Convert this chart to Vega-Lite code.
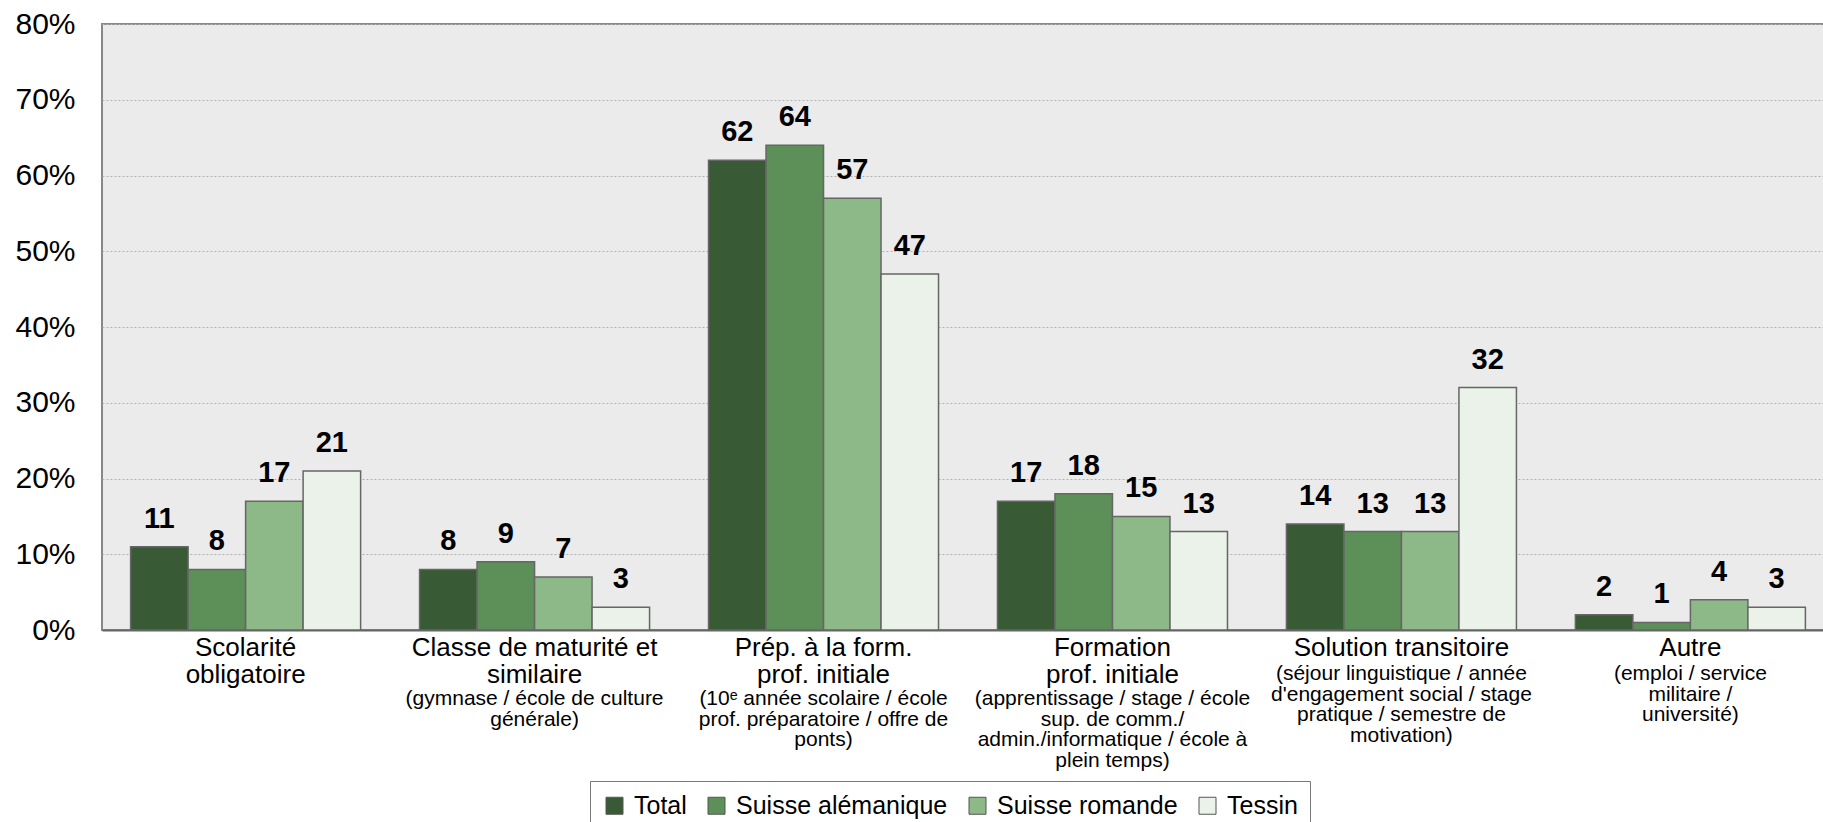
{
  "$schema": "https://vega.github.io/schema/vega-lite/v6.json",
  "autosize": "none",
  "padding": {"left": 102, "top": 24, "right": 0, "bottom": 192},
  "width": 1732,
  "height": 606,
  "background": "white",
  "config": {
    "font": "Liberation Sans",
    "view": {"stroke": "#888888", "strokeWidth": 2, "fill": "#ebebeb"}
  },
  "datasets": {
    "bars": [
      {"cat": "Scolarité|obligatoire", "region": "Total", "value": 11},
      {"cat": "Scolarité|obligatoire", "region": "Suisse alémanique", "value": 8},
      {"cat": "Scolarité|obligatoire", "region": "Suisse romande", "value": 17},
      {"cat": "Scolarité|obligatoire", "region": "Tessin", "value": 21},
      {"cat": "Classe de maturité et|similaire", "region": "Total", "value": 8},
      {"cat": "Classe de maturité et|similaire", "region": "Suisse alémanique", "value": 9},
      {"cat": "Classe de maturité et|similaire", "region": "Suisse romande", "value": 7},
      {"cat": "Classe de maturité et|similaire", "region": "Tessin", "value": 3},
      {"cat": "Prép. à la form.|prof. initiale", "region": "Total", "value": 62},
      {"cat": "Prép. à la form.|prof. initiale", "region": "Suisse alémanique", "value": 64},
      {"cat": "Prép. à la form.|prof. initiale", "region": "Suisse romande", "value": 57},
      {"cat": "Prép. à la form.|prof. initiale", "region": "Tessin", "value": 47},
      {"cat": "Formation|prof. initiale", "region": "Total", "value": 17},
      {"cat": "Formation|prof. initiale", "region": "Suisse alémanique", "value": 18},
      {"cat": "Formation|prof. initiale", "region": "Suisse romande", "value": 15},
      {"cat": "Formation|prof. initiale", "region": "Tessin", "value": 13},
      {"cat": "Solution transitoire", "region": "Total", "value": 14},
      {"cat": "Solution transitoire", "region": "Suisse alémanique", "value": 13},
      {"cat": "Solution transitoire", "region": "Suisse romande", "value": 13},
      {"cat": "Solution transitoire", "region": "Tessin", "value": 32},
      {"cat": "Autre", "region": "Total", "value": 2},
      {"cat": "Autre", "region": "Suisse alémanique", "value": 1},
      {"cat": "Autre", "region": "Suisse romande", "value": 4},
      {"cat": "Autre", "region": "Tessin", "value": 3}
    ],
    "subs": [
      {"cat": "Classe de maturité et|similaire", "sub": "(gymnase / école de culture|générale)"},
      {"cat": "Prép. à la form.|prof. initiale", "sub": "(10ᵉ année scolaire / école|prof. préparatoire / offre de|ponts)"},
      {"cat": "Formation|prof. initiale", "sub": "(apprentissage / stage / école|sup. de comm./|admin./informatique / école à|plein temps)"},
      {"cat": "Solution transitoire", "sub": "(séjour linguistique / année|d'engagement social / stage|pratique / semestre de|motivation)"},
      {"cat": "Autre", "sub": "(emploi / service|militaire /|université)"}
    ]
  },
  "layer": [
    {
      "data": {"name": "bars"},
      "mark": {"type": "bar", "stroke": "#666666", "strokeWidth": 1.5},
      "encoding": {
        "x": {
          "field": "cat", "type": "nominal", "sort": null,
          "scale": {
            "domain": ["Scolarité|obligatoire", "Classe de maturité et|similaire", "Prép. à la form.|prof. initiale", "Formation|prof. initiale", "Solution transitoire", "Autre"],
            "paddingInner": 0.204, "paddingOuter": 0.099
          },
          "axis": {
            "title": null, "labelAngle": 0, "ticks": false,
            "domainColor": "#666666", "domainWidth": 2,
            "labelFontSize": 26, "labelLineHeight": 27, "labelPadding": 4,
            "labelColor": "black", "labelExpr": "split(datum.label, '|')",
            "labelLimit": 0
          }
        },
        "xOffset": {"field": "region", "type": "nominal", "sort": ["Total", "Suisse alémanique", "Suisse romande", "Tessin"], "scale": {"paddingInner": 0, "paddingOuter": 0}},
        "y": {
          "field": "value", "type": "quantitative",
          "scale": {"domain": [0, 80], "nice": false},
          "axis": {
            "title": null, "values": [0, 10, 20, 30, 40, 50, 60, 70, 80],
            "labelExpr": "datum.value + '%'", "labelFontSize": 30, "labelColor": "black",
            "labelPadding": 27, "ticks": false, "domain": false,
            "gridColor": "#b0b0b0", "gridDash": [2, 2], "gridWidth": 1
          }
        },
        "color": {
          "field": "region", "type": "nominal",
          "sort": ["Total", "Suisse alémanique", "Suisse romande", "Tessin"],
          "scale": {"domain": ["Total", "Suisse alémanique", "Suisse romande", "Tessin"], "range": ["#385a35", "#5d9058", "#8db887", "#ebf2ea"]},
          "legend": {
            "title": null, "orient": "none", "legendX": 488, "legendY": 757,
            "direction": "horizontal", "columns": 4,
            "labelFontSize": 25, "labelColor": "black", "labelOffset": 7, "labelLimit": 0,
            "columnPadding": 17, "padding": 12,
            "symbolType": "square", "symbolSize": 289, "symbolStrokeColor": "#555555", "symbolStrokeWidth": 1, "symbolOpacity": 1,
            "strokeColor": "#777777", "fillColor": "white"
          }
        }
      }
    },
    {
      "data": {"name": "bars"},
      "mark": {"type": "text", "fontWeight": "bold", "fontSize": 29, "dy": -19, "baseline": "alphabetic", "color": "black"},
      "encoding": {
        "x": {"field": "cat", "type": "nominal", "sort": null},
        "xOffset": {"field": "region", "type": "nominal", "sort": ["Total", "Suisse alémanique", "Suisse romande", "Tessin"]},
        "y": {"field": "value", "type": "quantitative"},
        "text": {"field": "value", "type": "quantitative"}
      }
    },
    {
      "data": {"name": "subs"},
      "transform": [{"filter": "indexof(datum.cat, '|') >= 0"}],
      "mark": {"type": "text", "fontSize": 21, "lineHeight": 20.5, "lineBreak": "|", "baseline": "middle", "align": "center", "dy": 69, "color": "black"},
      "encoding": {
        "x": {"field": "cat", "type": "nominal", "sort": null},
        "y": {"datum": 0},
        "text": {"field": "sub", "type": "nominal"}
      }
    },
    {
      "data": {"name": "subs"},
      "transform": [{"filter": "indexof(datum.cat, '|') < 0"}],
      "mark": {"type": "text", "fontSize": 21, "lineHeight": 20.5, "lineBreak": "|", "baseline": "middle", "align": "center", "dy": 44, "color": "black"},
      "encoding": {
        "x": {"field": "cat", "type": "nominal", "sort": null},
        "y": {"datum": 0},
        "text": {"field": "sub", "type": "nominal"}
      }
    }
  ]
}
